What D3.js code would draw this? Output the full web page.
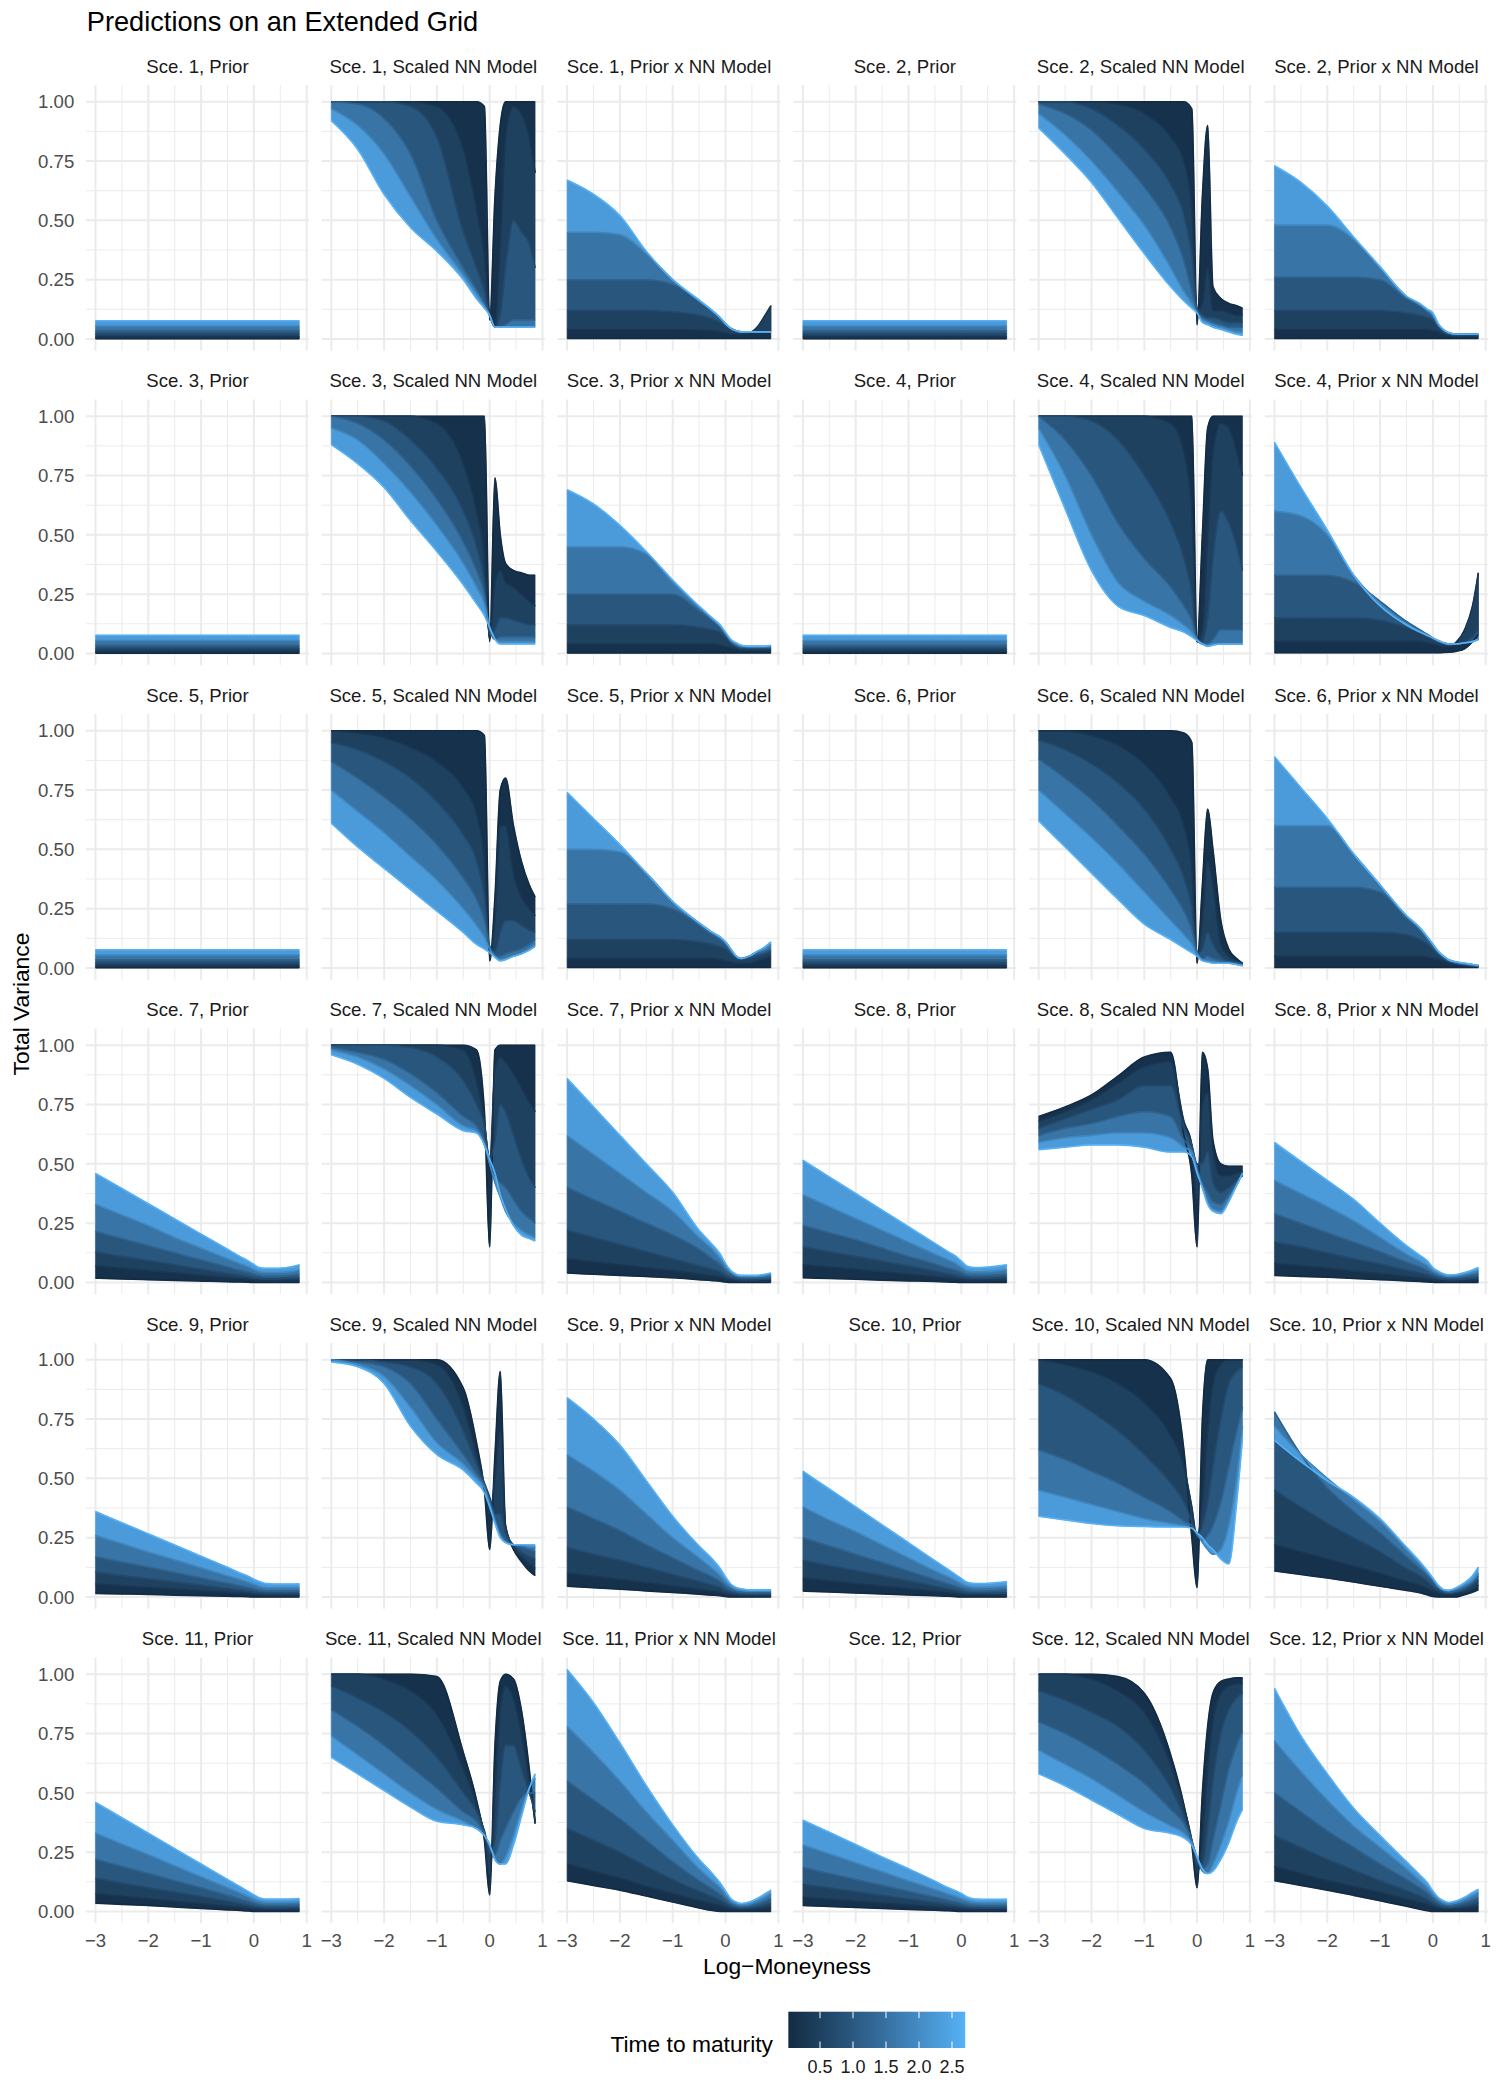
<!DOCTYPE html>
<html><head><meta charset="utf-8">
<script src="https://cdn.jsdelivr.net/npm/d3@7"></script>
<style>body{margin:0;background:#fff} svg text{font-family:"Liberation Sans",Arial,Helvetica,sans-serif}</style>
</head><body><svg id="chart" width="1500" height="2100"></svg>
<script>
// ---------------- data ----------------
const xGrid = [-3,-2.5,-2,-1.5,-1,-0.5,-0.25,-0.1,0,0.1,0.2,0.3,0.45,0.6,0.75,0.86];
const maturities = [0.02,0.3,0.7,1.2,1.9,2.7];
const scenarios = [1,2,3,4,5,6,7,8,9,10,11,12];
const modelNames = ["Prior","Scaled NN Model","Prior x NN Model"];
const yTicks = [0,0.25,0.5,0.75,1];
const yTickLabels = ["0.00","0.25","0.50","0.75","1.00"];
const xTicks = [-3,-2,-1,0,1];
const xTickLabels = ["\u22123","\u22122","\u22121","0","1"];
const legendTicks = [0.5,1,1.5,2,2.5];
const legendTickLabels = ["0.5","1.0","1.5","2.0","2.5"];

// flat prior levels (one constant value per maturity) for scenarios 1-6
const flatPriorLevels = [0.001,0.009,0.021,0.035,0.055,0.077];

const sce1Scaled = [
 [1,1,1,1,1,1,1,0.98,0.08,0.6,0.9,1,1,1,1,1],
 [1,1,1,1,0.98,0.8,0.55,0.35,0.1,0.06,0.4,0.85,0.98,0.95,0.85,0.7],
 [1,1,1,0.98,0.85,0.45,0.3,0.2,0.1,0.05,0.1,0.3,0.5,0.45,0.4,0.3],
 [1,0.99,0.93,0.78,0.5,0.3,0.21,0.15,0.1,0.05,0.05,0.06,0.08,0.08,0.08,0.08],
 [0.97,0.9,0.78,0.6,0.42,0.27,0.19,0.14,0.1,0.05,0.05,0.05,0.05,0.05,0.05,0.05],
 [0.92,0.8,0.61,0.47,0.37,0.25,0.17,0.13,0.1,0.05,0.05,0.05,0.05,0.05,0.05,0.05]];
const sce1PxNN = [
 [0.002,0.002,0.002,0.002,0.002,0.002,0.002,0.002,0.002,0.002,0.002,0.002,0.002,0.002,0.002,0.002],
 [0.04,0.04,0.04,0.04,0.04,0.038,0.035,0.03,0.025,0.02,0.02,0.02,0.025,0.05,0.1,0.14],
 [0.12,0.12,0.12,0.12,0.115,0.1,0.085,0.07,0.055,0.04,0.03,0.028,0.03,0.03,0.03,0.03],
 [0.25,0.25,0.25,0.25,0.23,0.16,0.115,0.085,0.06,0.045,0.035,0.03,0.03,0.03,0.03,0.03],
 [0.45,0.45,0.44,0.36,0.25,0.16,0.12,0.09,0.065,0.045,0.035,0.03,0.03,0.03,0.03,0.03],
 [0.67,0.61,0.52,0.37,0.25,0.165,0.12,0.09,0.065,0.045,0.035,0.03,0.03,0.03,0.03,0.03]];
const sce2Scaled = [
 [1,1,1,1,1,1,1,0.97,0.06,0.6,0.9,0.22,0.17,0.15,0.14,0.13],
 [1,1,1,0.99,0.95,0.85,0.75,0.55,0.12,0.15,0.3,0.12,0.12,0.11,0.1,0.1],
 [1,1,0.97,0.9,0.8,0.65,0.52,0.35,0.13,0.1,0.09,0.09,0.08,0.07,0.07,0.07],
 [0.99,0.95,0.88,0.77,0.64,0.47,0.33,0.2,0.12,0.09,0.08,0.07,0.06,0.05,0.05,0.05],
 [0.95,0.86,0.75,0.62,0.48,0.3,0.2,0.15,0.11,0.08,0.07,0.06,0.05,0.04,0.03,0.03],
 [0.89,0.78,0.66,0.51,0.36,0.22,0.16,0.13,0.11,0.07,0.06,0.05,0.04,0.03,0.02,0.015]];
const sce2PxNN = [
 [0.002,0.002,0.002,0.002,0.002,0.002,0.002,0.002,0.002,0.002,0.002,0.002,0.002,0.002,0.002,0.002],
 [0.04,0.04,0.04,0.04,0.04,0.04,0.04,0.04,0.035,0.03,0.02,0.015,0.01,0.01,0.01,0.01],
 [0.12,0.12,0.12,0.12,0.12,0.11,0.1,0.09,0.08,0.05,0.03,0.02,0.015,0.015,0.015,0.015],
 [0.26,0.26,0.26,0.26,0.25,0.17,0.14,0.115,0.095,0.06,0.035,0.025,0.02,0.02,0.02,0.02],
 [0.48,0.48,0.48,0.42,0.3,0.18,0.145,0.12,0.1,0.06,0.04,0.025,0.02,0.02,0.02,0.02],
 [0.73,0.66,0.56,0.43,0.305,0.18,0.15,0.125,0.11,0.066,0.04,0.027,0.02,0.02,0.02,0.02]];
const sce3Scaled = [
 [1,1,1,1,1,1,1,1,0.05,0.74,0.5,0.38,0.35,0.34,0.33,0.33],
 [1,1,1,1,0.97,0.8,0.6,0.4,0.06,0.3,0.35,0.3,0.28,0.25,0.22,0.2],
 [1,1,0.98,0.9,0.78,0.6,0.45,0.3,0.08,0.1,0.15,0.15,0.14,0.13,0.12,0.12],
 [1,0.97,0.9,0.79,0.65,0.47,0.35,0.25,0.1,0.06,0.07,0.07,0.07,0.07,0.07,0.07],
 [0.95,0.9,0.8,0.68,0.54,0.38,0.28,0.21,0.11,0.06,0.05,0.05,0.05,0.05,0.05,0.05],
 [0.88,0.8,0.7,0.56,0.43,0.29,0.21,0.16,0.11,0.06,0.04,0.04,0.04,0.04,0.04,0.04]];
const sce3PxNN = [
 [0.002,0.002,0.002,0.002,0.002,0.002,0.002,0.002,0.002,0.002,0.002,0.002,0.002,0.002,0.002,0.002],
 [0.04,0.04,0.04,0.04,0.04,0.04,0.04,0.035,0.03,0.025,0.02,0.015,0.015,0.015,0.015,0.015],
 [0.12,0.12,0.12,0.12,0.12,0.11,0.1,0.09,0.07,0.045,0.03,0.02,0.02,0.02,0.02,0.02],
 [0.25,0.25,0.25,0.25,0.25,0.18,0.14,0.11,0.08,0.05,0.035,0.03,0.025,0.025,0.025,0.025],
 [0.45,0.45,0.45,0.42,0.3,0.195,0.145,0.115,0.085,0.055,0.04,0.03,0.03,0.03,0.03,0.03],
 [0.69,0.63,0.54,0.43,0.31,0.2,0.15,0.12,0.09,0.06,0.045,0.035,0.03,0.03,0.03,0.035]];
const sce4Scaled = [
 [1,1,1,1,1,1,1,1,0.05,0.5,0.95,1,1,1,1,1],
 [1,1,1,1,1,0.97,0.85,0.6,0.05,0.1,0.5,0.85,0.97,0.95,0.85,0.75],
 [1,1,0.98,0.9,0.75,0.55,0.4,0.25,0.05,0.05,0.15,0.4,0.6,0.55,0.45,0.35],
 [1,0.9,0.75,0.55,0.4,0.28,0.2,0.14,0.06,0.04,0.04,0.06,0.1,0.1,0.1,0.1],
 [0.95,0.75,0.5,0.3,0.22,0.16,0.12,0.09,0.06,0.04,0.035,0.04,0.04,0.04,0.04,0.04],
 [0.88,0.61,0.35,0.2,0.16,0.11,0.09,0.07,0.055,0.04,0.03,0.035,0.04,0.04,0.04,0.04]];
const sce4PxNN = [
 [0.003,0.003,0.003,0.003,0.003,0.003,0.003,0.003,0.003,0.003,0.004,0.005,0.01,0.02,0.05,0.08],
 [0.05,0.05,0.05,0.05,0.05,0.05,0.05,0.045,0.04,0.035,0.03,0.03,0.05,0.1,0.2,0.34],
 [0.15,0.15,0.15,0.15,0.14,0.11,0.09,0.075,0.06,0.05,0.04,0.035,0.04,0.05,0.07,0.1],
 [0.33,0.33,0.33,0.3,0.22,0.135,0.1,0.08,0.065,0.05,0.045,0.04,0.04,0.045,0.05,0.06],
 [0.6,0.58,0.5,0.33,0.21,0.125,0.095,0.078,0.065,0.055,0.045,0.04,0.04,0.045,0.05,0.06],
 [0.89,0.7,0.52,0.33,0.2,0.12,0.09,0.075,0.065,0.055,0.045,0.04,0.04,0.045,0.05,0.06]];
const sce5Scaled = [
 [1,1,1,1,1,1,1,0.98,0.03,0.3,0.75,0.8,0.6,0.45,0.35,0.3],
 [1,0.99,0.97,0.93,0.87,0.76,0.65,0.45,0.06,0.2,0.6,0.6,0.4,0.3,0.25,0.22],
 [0.95,0.92,0.87,0.8,0.7,0.56,0.45,0.3,0.09,0.07,0.15,0.2,0.2,0.18,0.16,0.15],
 [0.87,0.8,0.72,0.63,0.52,0.38,0.29,0.2,0.09,0.05,0.05,0.06,0.07,0.08,0.1,0.12],
 [0.75,0.66,0.57,0.47,0.37,0.25,0.18,0.13,0.08,0.05,0.035,0.04,0.05,0.06,0.08,0.1],
 [0.61,0.51,0.42,0.33,0.24,0.15,0.1,0.08,0.065,0.045,0.03,0.035,0.05,0.06,0.075,0.09]];
const sce5PxNN = [
 [0.002,0.002,0.002,0.002,0.002,0.002,0.002,0.002,0.002,0.002,0.002,0.002,0.002,0.002,0.002,0.002],
 [0.04,0.04,0.04,0.04,0.04,0.04,0.04,0.035,0.03,0.025,0.02,0.02,0.02,0.03,0.04,0.05],
 [0.12,0.12,0.12,0.12,0.12,0.11,0.1,0.09,0.08,0.06,0.04,0.035,0.04,0.05,0.06,0.07],
 [0.27,0.27,0.27,0.27,0.25,0.18,0.14,0.12,0.1,0.07,0.05,0.04,0.05,0.06,0.07,0.08],
 [0.5,0.5,0.49,0.4,0.28,0.19,0.15,0.13,0.11,0.08,0.05,0.04,0.05,0.07,0.08,0.1],
 [0.74,0.63,0.52,0.4,0.28,0.19,0.15,0.13,0.11,0.08,0.05,0.04,0.05,0.07,0.09,0.11]];
const sce6Scaled = [
 [1,1,1,1,1,1,0.99,0.95,0.02,0.35,0.67,0.5,0.2,0.08,0.04,0.02],
 [1,1,0.98,0.94,0.86,0.72,0.6,0.42,0.04,0.2,0.45,0.35,0.1,0.05,0.03,0.02],
 [0.96,0.92,0.86,0.78,0.67,0.5,0.38,0.25,0.06,0.08,0.15,0.1,0.05,0.03,0.025,0.02],
 [0.88,0.8,0.71,0.6,0.48,0.33,0.24,0.16,0.07,0.04,0.05,0.04,0.03,0.025,0.02,0.015],
 [0.75,0.65,0.55,0.44,0.32,0.2,0.14,0.1,0.06,0.035,0.03,0.025,0.02,0.02,0.015,0.01],
 [0.62,0.51,0.4,0.29,0.185,0.12,0.085,0.065,0.05,0.03,0.025,0.02,0.02,0.02,0.015,0.01]];
const sce6PxNN = [
 [0.002,0.002,0.002,0.002,0.002,0.002,0.002,0.002,0.002,0.002,0.002,0.002,0.002,0.002,0.002,0.002],
 [0.05,0.05,0.05,0.05,0.05,0.05,0.05,0.045,0.04,0.035,0.03,0.02,0.015,0.01,0.01,0.005],
 [0.15,0.15,0.15,0.15,0.15,0.14,0.12,0.1,0.08,0.06,0.04,0.03,0.02,0.015,0.01,0.01],
 [0.34,0.34,0.34,0.34,0.32,0.21,0.16,0.12,0.09,0.065,0.045,0.03,0.02,0.015,0.01,0.01],
 [0.6,0.6,0.6,0.48,0.35,0.22,0.17,0.13,0.1,0.07,0.05,0.035,0.025,0.02,0.015,0.01],
 [0.89,0.76,0.63,0.48,0.35,0.22,0.17,0.13,0.1,0.07,0.05,0.035,0.025,0.02,0.015,0.01]];
const sce7Prior = [
 [0.018,0.015,0.012,0.009,0.006,0.003,0.002,0.001,0,0,0,0,0,0,0,0],
 [0.07,0.06,0.05,0.04,0.03,0.02,0.016,0.013,0.01,0.008,0.007,0.007,0.007,0.008,0.008,0.009],
 [0.13,0.11,0.093,0.075,0.056,0.038,0.03,0.025,0.02,0.017,0.016,0.016,0.016,0.017,0.018,0.02],
 [0.215,0.185,0.155,0.125,0.095,0.065,0.05,0.042,0.035,0.03,0.027,0.027,0.027,0.028,0.031,0.034],
 [0.33,0.285,0.24,0.19,0.145,0.1,0.078,0.065,0.055,0.045,0.042,0.042,0.042,0.044,0.048,0.053],
 [0.46,0.396,0.332,0.268,0.204,0.14,0.108,0.09,0.076,0.063,0.06,0.06,0.06,0.062,0.068,0.075]];
const sce7Scaled = [
 [1,1,1,1,1,1,0.98,0.72,0.15,0.98,1,1,1,1,1,1],
 [1,1,1,1,1,0.98,0.85,0.68,0.5,0.9,0.95,0.93,0.88,0.82,0.76,0.72],
 [1,1,1,0.99,0.95,0.85,0.75,0.66,0.52,0.6,0.75,0.72,0.62,0.52,0.44,0.4],
 [0.99,0.97,0.94,0.88,0.8,0.7,0.66,0.6,0.52,0.45,0.42,0.4,0.35,0.3,0.27,0.25],
 [0.98,0.95,0.9,0.83,0.75,0.66,0.64,0.58,0.5,0.42,0.36,0.3,0.25,0.22,0.2,0.19],
 [0.96,0.92,0.86,0.78,0.71,0.64,0.63,0.58,0.52,0.46,0.37,0.31,0.24,0.2,0.185,0.175]];
const sce7PxNN = [
 [0.04,0.035,0.03,0.025,0.02,0.012,0.008,0.005,0.002,0,0,0,0,0,0,0],
 [0.1,0.087,0.075,0.062,0.05,0.035,0.028,0.022,0.015,0.01,0.007,0.006,0.006,0.006,0.007,0.008],
 [0.22,0.19,0.16,0.13,0.1,0.07,0.055,0.045,0.03,0.02,0.015,0.012,0.012,0.012,0.015,0.015],
 [0.4,0.35,0.3,0.25,0.2,0.14,0.1,0.075,0.05,0.035,0.025,0.02,0.02,0.02,0.02,0.025],
 [0.62,0.54,0.46,0.38,0.3,0.19,0.14,0.1,0.07,0.045,0.03,0.025,0.025,0.025,0.03,0.035],
 [0.86,0.74,0.62,0.5,0.38,0.22,0.16,0.12,0.08,0.05,0.035,0.03,0.03,0.03,0.035,0.04]];
const sce8Prior = [
 [0.02,0.017,0.014,0.01,0.007,0.004,0.002,0.001,0,0,0,0,0,0,0,0],
 [0.075,0.065,0.055,0.045,0.035,0.024,0.018,0.015,0.012,0.009,0.008,0.008,0.008,0.009,0.009,0.01],
 [0.15,0.13,0.11,0.09,0.07,0.048,0.037,0.03,0.024,0.02,0.018,0.018,0.018,0.019,0.02,0.021],
 [0.24,0.21,0.18,0.145,0.11,0.078,0.06,0.052,0.042,0.033,0.03,0.03,0.03,0.031,0.033,0.035],
 [0.37,0.32,0.27,0.22,0.17,0.12,0.095,0.08,0.065,0.05,0.046,0.045,0.046,0.048,0.051,0.054],
 [0.515,0.445,0.375,0.305,0.235,0.165,0.13,0.11,0.09,0.07,0.064,0.063,0.064,0.067,0.071,0.075]];
const sce8Scaled = [
 [0.7,0.74,0.79,0.87,0.95,0.97,0.62,0.45,0.15,0.97,0.9,0.6,0.5,0.49,0.49,0.49],
 [0.68,0.72,0.77,0.84,0.91,0.93,0.68,0.58,0.35,0.75,0.8,0.55,0.45,0.45,0.46,0.47],
 [0.65,0.69,0.73,0.77,0.83,0.83,0.65,0.58,0.5,0.5,0.55,0.42,0.38,0.4,0.43,0.45],
 [0.62,0.65,0.67,0.7,0.72,0.7,0.6,0.56,0.48,0.42,0.38,0.34,0.33,0.37,0.42,0.46],
 [0.59,0.61,0.62,0.63,0.63,0.61,0.57,0.55,0.47,0.4,0.34,0.31,0.3,0.35,0.41,0.46],
 [0.56,0.57,0.58,0.58,0.57,0.55,0.55,0.53,0.46,0.4,0.33,0.3,0.29,0.34,0.41,0.46]];
const sce8PxNN = [
 [0.03,0.026,0.022,0.017,0.012,0.007,0.004,0.002,0.001,0,0,0,0,0,0,0],
 [0.08,0.07,0.06,0.048,0.037,0.025,0.019,0.015,0.011,0.008,0.007,0.006,0.006,0.007,0.008,0.009],
 [0.17,0.15,0.125,0.1,0.078,0.052,0.04,0.031,0.023,0.017,0.014,0.012,0.013,0.015,0.018,0.02],
 [0.29,0.25,0.21,0.17,0.13,0.085,0.065,0.05,0.037,0.028,0.022,0.02,0.021,0.025,0.03,0.035],
 [0.43,0.375,0.32,0.26,0.19,0.12,0.09,0.07,0.05,0.038,0.03,0.026,0.028,0.034,0.042,0.05],
 [0.59,0.51,0.43,0.35,0.25,0.155,0.115,0.09,0.063,0.048,0.037,0.032,0.034,0.042,0.053,0.063]];
const sce9Prior = [
 [0.015,0.013,0.011,0.008,0.006,0.003,0.002,0.001,0,0,0,0,0,0,0,0],
 [0.055,0.047,0.04,0.033,0.026,0.019,0.015,0.012,0.01,0.008,0.007,0.007,0.007,0.007,0.007,0.007],
 [0.105,0.09,0.077,0.063,0.05,0.036,0.029,0.024,0.021,0.018,0.016,0.015,0.015,0.015,0.015,0.015],
 [0.17,0.147,0.125,0.103,0.08,0.058,0.047,0.04,0.035,0.029,0.026,0.025,0.025,0.025,0.025,0.025],
 [0.26,0.225,0.19,0.157,0.123,0.09,0.073,0.062,0.054,0.045,0.04,0.039,0.039,0.039,0.039,0.039],
 [0.36,0.313,0.266,0.219,0.172,0.125,0.1,0.087,0.075,0.065,0.058,0.056,0.055,0.055,0.055,0.056]];
const sce9Scaled = [
 [1,1,1,1,1,0.88,0.65,0.45,0.2,0.6,0.95,0.3,0.2,0.15,0.11,0.09],
 [1,1,1,1,0.98,0.8,0.6,0.47,0.35,0.5,0.7,0.3,0.21,0.17,0.14,0.12],
 [1,1,0.99,0.97,0.9,0.7,0.56,0.48,0.42,0.35,0.35,0.27,0.22,0.19,0.17,0.16],
 [1,0.99,0.97,0.9,0.75,0.6,0.52,0.47,0.4,0.33,0.27,0.24,0.22,0.21,0.2,0.19],
 [1,0.98,0.93,0.8,0.65,0.56,0.5,0.46,0.39,0.32,0.26,0.23,0.22,0.22,0.21,0.21],
 [0.99,0.97,0.9,0.72,0.6,0.535,0.48,0.44,0.38,0.31,0.25,0.23,0.22,0.22,0.22,0.22]];
const sce9PxNN = [
 [0.045,0.039,0.033,0.026,0.019,0.012,0.008,0.005,0.002,0,0,0,0,0,0,0],
 [0.1,0.087,0.074,0.06,0.046,0.032,0.025,0.02,0.014,0.01,0.007,0.006,0.005,0.005,0.005,0.005],
 [0.21,0.18,0.155,0.125,0.095,0.065,0.05,0.04,0.028,0.02,0.015,0.012,0.011,0.011,0.011,0.011],
 [0.38,0.33,0.28,0.22,0.165,0.11,0.085,0.065,0.045,0.032,0.024,0.02,0.018,0.018,0.018,0.018],
 [0.6,0.53,0.45,0.35,0.25,0.165,0.12,0.09,0.065,0.045,0.032,0.028,0.025,0.025,0.025,0.025],
 [0.84,0.75,0.64,0.49,0.34,0.215,0.16,0.12,0.085,0.055,0.04,0.035,0.03,0.03,0.03,0.03]];
const sce10Prior = [
 [0.025,0.021,0.017,0.013,0.009,0.005,0.003,0.001,0,0,0,0,0,0,0,0],
 [0.08,0.068,0.057,0.046,0.035,0.024,0.018,0.014,0.011,0.009,0.008,0.008,0.008,0.008,0.008,0.009],
 [0.155,0.133,0.112,0.09,0.068,0.046,0.035,0.028,0.022,0.018,0.016,0.016,0.016,0.016,0.017,0.018],
 [0.25,0.215,0.18,0.145,0.11,0.073,0.056,0.045,0.037,0.03,0.027,0.026,0.026,0.027,0.028,0.03],
 [0.38,0.325,0.275,0.22,0.165,0.11,0.085,0.068,0.056,0.046,0.042,0.041,0.041,0.042,0.044,0.046],
 [0.53,0.455,0.38,0.304,0.229,0.153,0.116,0.093,0.078,0.063,0.058,0.057,0.057,0.059,0.062,0.065]];
const sce10Scaled = [
 [1,1,1,1,1,0.92,0.62,0.25,0.04,0.75,1,1,1,1,1,1],
 [1,0.98,0.95,0.9,0.82,0.68,0.55,0.38,0.25,0.4,0.7,0.9,0.98,1,1,1],
 [0.9,0.85,0.78,0.7,0.6,0.48,0.4,0.32,0.26,0.3,0.4,0.55,0.75,0.9,0.95,0.97],
 [0.62,0.58,0.53,0.48,0.42,0.36,0.32,0.3,0.26,0.24,0.26,0.3,0.4,0.55,0.7,0.8],
 [0.45,0.42,0.39,0.36,0.33,0.31,0.3,0.29,0.27,0.23,0.2,0.18,0.2,0.3,0.5,0.72],
 [0.34,0.325,0.31,0.3,0.297,0.295,0.295,0.29,0.27,0.25,0.22,0.2,0.16,0.14,0.4,0.67]];
const sce10PxNN = [
 [0.11,0.095,0.08,0.063,0.045,0.028,0.018,0.008,0.002,0,0,0,0,0.01,0.02,0.03],
 [0.22,0.19,0.16,0.13,0.1,0.065,0.05,0.035,0.025,0.015,0.01,0.01,0.015,0.02,0.03,0.05],
 [0.45,0.38,0.31,0.25,0.19,0.12,0.09,0.065,0.045,0.03,0.02,0.015,0.02,0.03,0.05,0.07],
 [0.78,0.6,0.46,0.36,0.27,0.17,0.12,0.09,0.065,0.04,0.025,0.02,0.025,0.04,0.06,0.09],
 [0.72,0.6,0.5,0.41,0.32,0.2,0.14,0.1,0.075,0.045,0.03,0.027,0.035,0.05,0.07,0.1],
 [0.66,0.57,0.49,0.42,0.33,0.21,0.15,0.11,0.08,0.05,0.032,0.028,0.04,0.06,0.09,0.126]];
const sce11Prior = [
 [0.035,0.03,0.025,0.019,0.013,0.007,0.004,0.002,0,0,0,0,0,0,0,0],
 [0.075,0.064,0.054,0.043,0.033,0.022,0.017,0.013,0.01,0.008,0.007,0.007,0.007,0.007,0.007,0.008],
 [0.14,0.12,0.1,0.082,0.063,0.043,0.033,0.026,0.021,0.018,0.016,0.015,0.015,0.015,0.016,0.016],
 [0.22,0.19,0.16,0.13,0.1,0.068,0.052,0.042,0.035,0.029,0.026,0.025,0.025,0.025,0.026,0.027],
 [0.33,0.285,0.24,0.193,0.147,0.1,0.077,0.062,0.052,0.043,0.039,0.038,0.038,0.038,0.039,0.04],
 [0.46,0.395,0.33,0.265,0.2,0.135,0.103,0.083,0.07,0.058,0.053,0.052,0.052,0.052,0.053,0.055]];
const sce11Scaled = [
 [1,1,1,1,0.99,0.67,0.47,0.3,0.07,0.7,0.97,1,0.98,0.85,0.6,0.37],
 [1,1,0.98,0.93,0.83,0.6,0.45,0.32,0.15,0.5,0.85,0.95,0.9,0.75,0.55,0.38],
 [0.95,0.9,0.84,0.76,0.65,0.5,0.42,0.34,0.25,0.3,0.55,0.7,0.7,0.6,0.5,0.42],
 [0.85,0.78,0.7,0.61,0.52,0.42,0.38,0.33,0.27,0.24,0.3,0.35,0.42,0.48,0.5,0.5],
 [0.74,0.66,0.58,0.5,0.43,0.38,0.35,0.32,0.28,0.22,0.2,0.23,0.32,0.43,0.52,0.56],
 [0.65,0.58,0.51,0.44,0.38,0.365,0.35,0.32,0.28,0.22,0.2,0.2,0.28,0.4,0.52,0.58]];
const sce11PxNN = [
 [0.13,0.11,0.09,0.065,0.04,0.015,0.004,0,0,0,0,0,0,0,0,0],
 [0.2,0.17,0.14,0.105,0.075,0.045,0.032,0.024,0.017,0.011,0.008,0.007,0.008,0.01,0.014,0.018],
 [0.35,0.3,0.25,0.19,0.135,0.085,0.062,0.047,0.034,0.022,0.016,0.013,0.015,0.02,0.028,0.035],
 [0.55,0.47,0.39,0.3,0.21,0.13,0.095,0.072,0.052,0.033,0.024,0.02,0.023,0.032,0.043,0.055],
 [0.78,0.67,0.55,0.42,0.3,0.18,0.13,0.1,0.072,0.045,0.033,0.028,0.032,0.045,0.06,0.075],
 [1.02,0.88,0.71,0.53,0.365,0.22,0.16,0.12,0.087,0.055,0.04,0.034,0.04,0.055,0.075,0.09]];
const sce12Prior = [
 [0.025,0.021,0.017,0.013,0.009,0.005,0.003,0.001,0,0,0,0,0,0,0,0],
 [0.06,0.052,0.044,0.036,0.028,0.02,0.016,0.013,0.011,0.009,0.008,0.007,0.007,0.007,0.007,0.007],
 [0.115,0.1,0.084,0.068,0.053,0.038,0.03,0.025,0.021,0.018,0.016,0.015,0.015,0.015,0.015,0.015],
 [0.185,0.16,0.135,0.11,0.085,0.061,0.048,0.041,0.036,0.03,0.026,0.025,0.024,0.024,0.024,0.025],
 [0.28,0.243,0.205,0.168,0.13,0.093,0.074,0.063,0.055,0.046,0.04,0.038,0.037,0.037,0.037,0.038],
 [0.385,0.334,0.282,0.23,0.18,0.128,0.1,0.087,0.076,0.062,0.055,0.052,0.051,0.051,0.051,0.052]];
const sce12Scaled = [
 [1,1,1,0.99,0.92,0.66,0.45,0.28,0.1,0.5,0.78,0.92,0.97,0.98,0.985,0.985],
 [1,1,0.98,0.93,0.84,0.62,0.44,0.3,0.16,0.3,0.6,0.8,0.92,0.95,0.96,0.96],
 [0.93,0.89,0.84,0.78,0.68,0.52,0.4,0.3,0.2,0.2,0.35,0.55,0.75,0.85,0.9,0.92],
 [0.8,0.75,0.69,0.62,0.54,0.43,0.37,0.3,0.22,0.18,0.2,0.3,0.45,0.6,0.7,0.76],
 [0.68,0.62,0.56,0.49,0.42,0.36,0.33,0.29,0.23,0.17,0.16,0.2,0.28,0.38,0.5,0.58],
 [0.58,0.53,0.47,0.41,0.35,0.33,0.31,0.28,0.23,0.18,0.16,0.17,0.22,0.29,0.38,0.43]];
const sce12PxNN = [
 [0.13,0.11,0.09,0.068,0.045,0.022,0.01,0.003,0,0,0,0,0,0,0,0],
 [0.19,0.16,0.13,0.105,0.08,0.052,0.039,0.03,0.021,0.014,0.01,0.009,0.01,0.013,0.017,0.021],
 [0.32,0.27,0.22,0.175,0.13,0.088,0.066,0.05,0.036,0.025,0.018,0.016,0.018,0.024,0.031,0.038],
 [0.5,0.42,0.34,0.27,0.2,0.135,0.1,0.077,0.055,0.038,0.028,0.024,0.028,0.037,0.048,0.058],
 [0.72,0.59,0.47,0.36,0.27,0.18,0.13,0.1,0.072,0.05,0.037,0.032,0.037,0.05,0.066,0.078],
 [0.94,0.74,0.58,0.435,0.32,0.21,0.155,0.12,0.087,0.06,0.045,0.038,0.045,0.06,0.08,0.094]];

// constant series for the flat priors of scenarios 1-6
const flatPrior = flatPriorLevels.map(v => xGrid.map(() => v));
const panelData = [
  flatPrior, sce1Scaled, sce1PxNN, flatPrior, sce2Scaled, sce2PxNN,
  flatPrior, sce3Scaled, sce3PxNN, flatPrior, sce4Scaled, sce4PxNN,
  flatPrior, sce5Scaled, sce5PxNN, flatPrior, sce6Scaled, sce6PxNN,
  sce7Prior, sce7Scaled, sce7PxNN, sce8Prior, sce8Scaled, sce8PxNN,
  sce9Prior, sce9Scaled, sce9PxNN, sce10Prior, sce10Scaled, sce10PxNN,
  sce11Prior, sce11Scaled, sce11PxNN, sce12Prior, sce12Scaled, sce12PxNN];

// ---------------- drawing ----------------
const svg = d3.select("#chart");
const colorScale = d3.scaleLinear().domain([0.02, 2.7]).range(["#132B43", "#56B1F7"]).interpolate(d3.interpolateLab);

const colX0 = 95.5, colStep = 235.8, unitX = 52.8;
const rowY0 = 339, rowStep = 314.5, unitY = 237.3;
const xLo = -3.182, xHi = 1.044, yLo = -0.049, yHi = 1.07;
const gridCol = "#EBEBEB";
const smallFont = 18.6, bigFont = 22.8;

svg.append("text").attr("x", 86.8).attr("y", 30.7).attr("font-size", 27.2).attr("fill", "#000")
  .text("Predictions on an Extended Grid");

const defs = svg.append("defs");

panelData.forEach((curves, p) => {
  const row = Math.floor(p / 6), col = p % 6;
  const sc = scenarios[Math.floor(p / 3)], model = modelNames[p % 3];
  const x = d3.scaleLinear().domain([-3, 1]).range([colX0 + colStep * col, colX0 + colStep * col + 4 * unitX]);
  const y = d3.scaleLinear().domain([0, 1]).range([rowY0 + rowStep * row, rowY0 + rowStep * row - unitY]);
  const left = x(xLo), right = x(xHi), top = y(yHi), bottom = y(yLo);
  const g = svg.append("g");

  // grid
  const minorX = [-2.5, -1.5, -0.5, 0.5], minorY = [0.125, 0.375, 0.625, 0.875];
  g.selectAll(".mnx").data(minorX).enter().append("line")
    .attr("x1", d => x(d)).attr("x2", d => x(d)).attr("y1", top).attr("y2", bottom)
    .attr("stroke", gridCol).attr("stroke-width", 1);
  g.selectAll(".mny").data(minorY).enter().append("line")
    .attr("x1", left).attr("x2", right).attr("y1", d => y(d)).attr("y2", d => y(d))
    .attr("stroke", gridCol).attr("stroke-width", 1);
  g.selectAll(".mjx").data(xTicks).enter().append("line")
    .attr("x1", d => x(d)).attr("x2", d => x(d)).attr("y1", top).attr("y2", bottom)
    .attr("stroke", gridCol).attr("stroke-width", 2);
  g.selectAll(".mjy").data(yTicks).enter().append("line")
    .attr("x1", left).attr("x2", right).attr("y1", d => y(d)).attr("y2", d => y(d))
    .attr("stroke", gridCol).attr("stroke-width", 2);

  // strip
  g.append("text").attr("x", (left + right) / 2).attr("y", top - 12.3)
    .attr("text-anchor", "middle").attr("font-size", smallFont).attr("fill", "#1A1A1A")
    .text(`Sce. ${sc}, ${model}`);

  // clip
  const cid = "clip" + p;
  defs.append("clipPath").attr("id", cid).append("rect")
    .attr("x", left).attr("y", top).attr("width", right - left).attr("height", bottom - top);
  const pg = g.append("g").attr("clip-path", `url(#${cid})`);

  // bands between neighbouring maturities
  for (let i = 0; i < curves.length - 1; i++) {
    const lo = curves[i], hi = curves[i + 1];
    const c = colorScale((maturities[i] + maturities[i + 1]) / 2);
    const area = d3.area().curve(d3.curveMonotoneX)
      .x((d, k) => x(xGrid[k])).y0((d, k) => y(lo[k])).y1((d, k) => y(hi[k]));
    pg.append("path").attr("d", area(xGrid)).attr("fill", c).attr("stroke", c).attr("stroke-width", 0.6);
  }
  // lines
  curves.forEach((vals, i) => {
    const line = d3.line().curve(d3.curveMonotoneX).x((d, k) => x(xGrid[k])).y(d => y(d));
    pg.append("path").attr("d", line(vals)).attr("fill", "none")
      .attr("stroke", colorScale(maturities[i])).attr("stroke-width", 1.6);
  });

  // axes text
  if (col === 0) {
    g.selectAll(".yl").data(yTicks).enter().append("text")
      .attr("x", 74.3).attr("y", d => y(d)).attr("dy", "0.36em").attr("text-anchor", "end")
      .attr("font-size", smallFont).attr("fill", "#4D4D4D").text((d, i) => yTickLabels[i]);
  }
  if (row === 5) {
    g.selectAll(".xl").data(xTicks).enter().append("text")
      .attr("x", d => x(d)).attr("y", 1947).attr("text-anchor", "middle")
      .attr("font-size", smallFont).attr("fill", "#4D4D4D").text((d, i) => xTickLabels[i]);
  }
});

// axis titles
svg.append("text").attr("transform", "translate(29,1004) rotate(-90)").attr("text-anchor", "middle")
  .attr("font-size", bigFont).attr("fill", "#000").text("Total Variance");
svg.append("text").attr("x", 787).attr("y", 1974).attr("text-anchor", "middle")
  .attr("font-size", bigFont).attr("fill", "#000").text("Log\u2212Moneyness");

// legend
const legX = d3.scaleLinear().domain([0, 2.7]).range([787, 965.2]);
const barTop = 2011.7, barBot = 2048;
const grad = defs.append("linearGradient").attr("id", "tgrad").attr("x1", "0%").attr("x2", "100%");
d3.range(0, 1.0001, 0.05).forEach(f => {
  grad.append("stop").attr("offset", (f * 100) + "%").attr("stop-color", colorScale(0.02 + f * (2.7 - 0.02)));
});
svg.append("rect").attr("x", legX(0.02)).attr("y", barTop).attr("width", legX(2.7) - legX(0.02))
  .attr("height", barBot - barTop).attr("fill", "url(#tgrad)");
legendTicks.forEach((t, i) => {
  svg.append("line").attr("x1", legX(t)).attr("x2", legX(t)).attr("y1", barTop).attr("y2", barTop + 6.5)
    .attr("stroke", "#fff").attr("stroke-width", 1);
  svg.append("line").attr("x1", legX(t)).attr("x2", legX(t)).attr("y1", barBot - 6.5).attr("y2", barBot)
    .attr("stroke", "#fff").attr("stroke-width", 1);
  svg.append("text").attr("x", legX(t)).attr("y", 2072.7).attr("text-anchor", "middle")
    .attr("font-size", 18).attr("fill", "#1A1A1A").text(legendTickLabels[i]);
});
svg.append("text").attr("x", 773).attr("y", 2052).attr("text-anchor", "end")
  .attr("font-size", bigFont).attr("fill", "#000").text("Time to maturity");
</script>
</body></html>
